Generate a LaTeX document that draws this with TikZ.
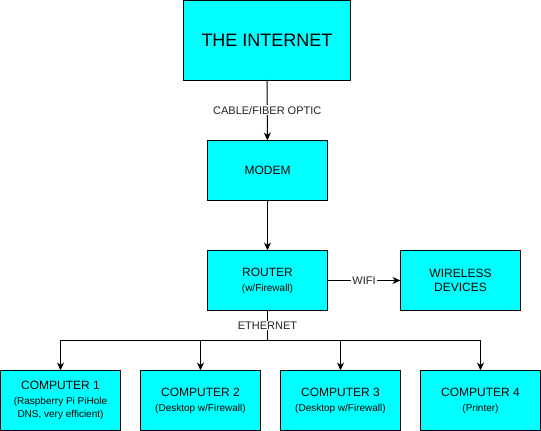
\documentclass[tikz,border=0pt]{standalone}
\usepackage{fontspec}
\setmainfont{Liberation Sans}
\usetikzlibrary{arrows.meta}
\definecolor{boxfill}{HTML}{00FFFF}
\definecolor{labtext}{HTML}{222222}
\begin{document}
\begin{tikzpicture}[x=1pt,y=-1pt,
 box/.style={draw=black, fill=boxfill, line width=1pt, inner sep=0pt, outer sep=0pt,
   anchor=north west, align=center, minimum width=120pt, minimum height=60pt,
   font=\fontsize{10}{13.3}\selectfont},
 wire/.style={line width=1pt, -{Stealth[length=8pt,width=7pt,inset=2.5pt]}},
 plain/.style={line width=1pt},
 lab/.style={fill=white, inner sep=1pt, text=labtext, font=\fontsize{11}{13}\selectfont}]
\useasboundingbox (0,0) rectangle (541,431);
\node[box, minimum width=167pt, minimum height=79.5pt, font=\fontsize{18}{21}\selectfont] (inet) at (183.5,0.5) {THE INTERNET};
\node[box, font=\fontsize{12}{14}\selectfont] (modem) at (207.5,140.5) {MODEM};
\node[box] (router) at (207.5,250.5) {{\fontsize{12}{14}\selectfont ROUTER}\\[1.4pt](w/Firewall)};
\node[box, font=\fontsize{12}{14}\selectfont] (wireless) at (400.5,250.5) {WIRELESS\\DEVICES};
\node[box] (c1) at (0.5,370.5) {{\fontsize{12}{14}\selectfont COMPUTER 1}\\[1.4pt](Raspberry Pi PiHole\\DNS, very efficient)};
\node[box] (c2) at (140.5,370.5) {{\fontsize{12}{14}\selectfont COMPUTER 2}\\[1.4pt](Desktop w/Firewall)};
\node[box] (c3) at (280.5,370.5) {{\fontsize{12}{14}\selectfont COMPUTER 3}\\[1.4pt](Desktop w/Firewall)};
\node[box] (c4) at (420.5,370.5) {{\fontsize{12}{14}\selectfont COMPUTER 4}\\[1.4pt](Printer)};
\coordinate (bus) at (267.5,340.5);
\draw[wire] (inet) -- node[lab] {CABLE/FIBER OPTIC} (modem);
\draw[wire] (modem) -- (router);
\draw[wire] (router) -- node[lab] {WIFI} (wireless);
\draw[plain] (router.south) -- node[lab] {ETHERNET} (bus);
\draw[wire] (bus) -| (c1.north);
\draw[wire] (bus) -| (c2.north);
\draw[wire] (bus) -| (c3.north);
\draw[wire] (bus) -| (c4.north);
\end{tikzpicture}
\end{document}
